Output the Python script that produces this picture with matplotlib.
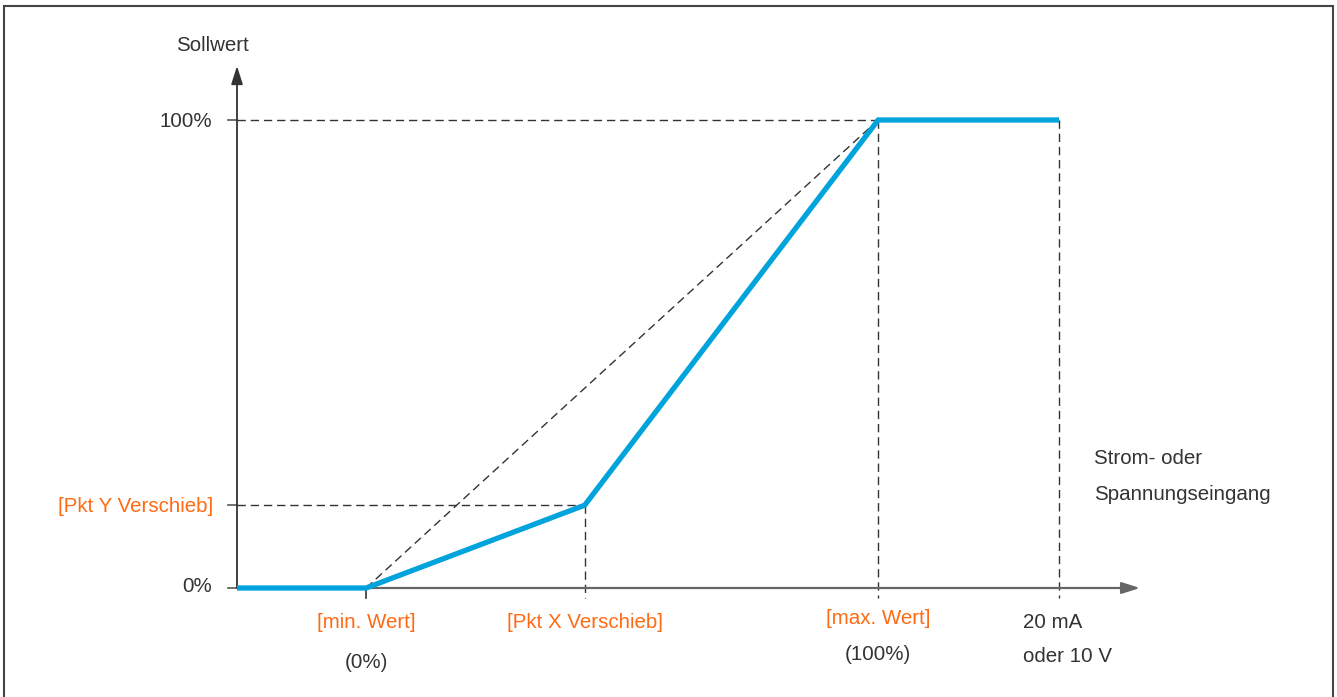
import numpy as np
import matplotlib.pyplot as plt
from matplotlib.patches import Rectangle

plt.rcParams['font.family'] = ['Liberation Sans', 'DejaVu Sans']

# Kennlinie (x: Eingang in % von 20 mA, y: Sollwert in %)
x_min = 15.7
x_pkt = 42.3
x_max = 78.0
x_end = 100.0
y_pkt = 17.7
y_max = 100.0

curve_x = [0, x_min, x_pkt, x_max, x_end]
curve_y = [0, 0, y_pkt, y_max, y_max]

blue = '#00a3dc'
orange = '#ff6a13'
grey = '#333333'

fig = plt.figure(figsize=(13.37, 6.97), dpi=100)
ax = fig.add_axes([0, 0, 1, 1])
# pixel mapping: x=0 -> 237px, 100 -> 1059px ; y=0 -> 588px, 100 -> 120px
sx = 8.22
sy = 4.68
ax.set_xlim(-237 / sx, (1337 - 237) / sx)
ax.set_ylim(-(697 - 588) / sy, 588 / sy)
ax.axis('off')

# Rahmen
fig.patches.append(Rectangle((4 / 1337, -0.01), 1329 / 1337, 1 - 6 / 697 + 0.01,
                             transform=fig.transFigure, fill=False,
                             edgecolor='#444444', lw=1.5))

# Achsen mit Pfeilen
ax.annotate('', xy=((1140 - 237) / sx, 0), xytext=(0, 0),
            arrowprops=dict(arrowstyle='-|>,head_length=1.1,head_width=0.35',
                            color='#666666', lw=1.6, shrinkA=0, shrinkB=0))
ax.annotate('', xy=(0, (588 - 66) / sy), xytext=(0, 0),
            arrowprops=dict(arrowstyle='-|>,head_length=1.1,head_width=0.35',
                            color=grey, lw=1.3, shrinkA=0, shrinkB=0))

# Teilstriche
tick_y = [0, y_pkt, y_max]
for ty in tick_y:
    ax.plot([-9 / sx, 0], [ty, ty], color='#666666', lw=1.3)
ax.plot([x_min, x_min], [0, -10 / sy], color=grey, lw=1.2)

dash = dict(color=grey, lw=1.0, ls=(0, (6, 3.5)))
ax.plot([0, x_max], [y_max, y_max], **dash)
ax.plot([0, x_pkt], [y_pkt, y_pkt], **dash)
ax.plot([x_pkt, x_pkt], [y_pkt, -10 / sy], **dash)
ax.plot([x_max, x_max], [y_max, -10 / sy], **dash)
ax.plot([x_end, x_end], [y_max, -10 / sy], **dash)
ax.plot([x_min, x_max], [0, y_max], **dash)

# Kennlinie
ax.plot(curve_x, curve_y, color=blue, lw=3.8, solid_joinstyle='miter',
        solid_capstyle='butt', zorder=5)

fs = 14.8
def px(x, y):
    return ((x - 237) / sx, (588 - y - 2) / sy)

ax.text(*px(212, 44), 'Sollwert', color=grey, fontsize=fs, ha='center', va='center')
ax.text(*px(212, 120), '100%', color=grey, fontsize=fs, ha='right', va='center')
ax.text(*px(213, 505), '[Pkt Y Verschieb]', color=orange, fontsize=fs, ha='right', va='center')
ax.text(*px(212, 584), '0%', color=grey, fontsize=fs, ha='right', va='center')

ax.text(x_min, (588 - 623) / sy, '[min. Wert]', color=orange, fontsize=fs, ha='center', va='center')
ax.text(x_min, (588 - 662) / sy, '(0%)', color=grey, fontsize=fs, ha='center', va='center')
ax.text(x_pkt, (588 - 622) / sy, '[Pkt X Verschieb]', color=orange, fontsize=fs, ha='center', va='center')
ax.text(x_max, (588 - 619) / sy, '[max. Wert]', color=orange, fontsize=fs, ha='center', va='center')
ax.text(x_max, (588 - 655) / sy, '(100%)', color=grey, fontsize=fs, ha='center', va='center')
ax.text(*px(1023, 620), '20 mA', color=grey, fontsize=fs, ha='left', va='center')
ax.text(*px(1023, 655), 'oder 10 V', color=grey, fontsize=fs, ha='left', va='center')
ax.text(*px(1094, 457), 'Strom- oder', color=grey, fontsize=fs, ha='left', va='center')
ax.text(*px(1094, 493), 'Spannungseingang', color=grey, fontsize=fs, ha='left', va='center')

fig.savefig('out.png', dpi=100)
